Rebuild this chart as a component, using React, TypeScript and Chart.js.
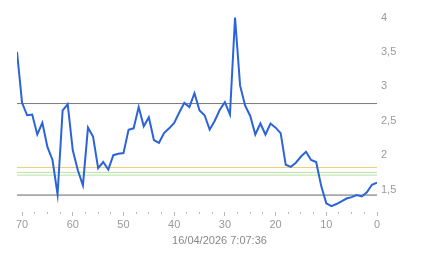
import React, { useEffect, useRef } from "react";
import { Chart, registerables } from "chart.js";

Chart.register(...registerables);

// x positions (counting down from 71 to 0)
const X_VALUES: number[] = [
  71, 70, 69, 68, 67, 66, 65, 64, 63, 62, 61, 60, 59, 58, 57, 56, 55, 54, 53, 52, 51, 50,
  49, 48, 47, 46, 45, 44, 43, 42, 41, 40, 39, 38, 37, 36, 35, 34, 33, 32, 31, 30,
  29, 28, 27, 26, 25, 24, 23, 22, 21, 20, 19, 18, 17, 16, 15, 14, 13, 12, 11, 10,
  9, 8, 7, 6, 5, 4, 3, 2, 1, 0,
];
const SERIES: number[] = [
  3.5, 2.76, 2.58, 2.59, 2.3, 2.47, 2.12, 1.93, 1.43, 2.65, 2.74, 2.07, 1.78, 1.56, 2.4, 2.27, 1.81, 1.9, 1.79, 2.0, 2.02, 2.03,
  2.37, 2.39, 2.7, 2.42, 2.55, 2.22, 2.18, 2.32, 2.39, 2.47, 2.62, 2.76, 2.7, 2.9, 2.65, 2.58, 2.37, 2.5, 2.66, 2.77,
  2.59, 4.0, 3.01, 2.72, 2.57, 2.3, 2.46, 2.3, 2.46, 2.4, 2.32, 1.86, 1.83, 1.89, 1.98, 2.05, 1.93, 1.9, 1.55, 1.3,
  1.26, 1.29, 1.33, 1.37, 1.39, 1.42, 1.4, 1.46, 1.57, 1.6,
];
// reference levels
const LEVEL_VALUES: number[] = [2.75, 1.42, 1.82, 1.75, 1.71];
const LEVEL_COLORS: string[] = ["#777777", "#666666", "#f0cc7a", "#b5e2a5", "#b5e2a5"];

const X_TICKS: number[] = [
  0, 2.5, 5, 7.5, 10, 12.5, 15, 17.5, 20, 22.5, 25, 27.5, 30, 32.5, 35, 37.5, 40, 42.5, 45, 47.5,
  50, 52.5, 55, 57.5, 60, 62.5, 65, 67.5, 70,
];
const X_LABELED: number[] = [0, 10, 20, 30, 40, 50, 60, 70];
const Y_TICKS: number[] = [1.5, 2, 2.5, 3, 3.5, 4];
const TIMESTAMP = "16/04/2026 7:07:36";

export default function App() {
  const ref = useRef<HTMLCanvasElement | null>(null);

  useEffect(() => {
    if (!ref.current) return;
    const xMin = 0;
    const xMax = Math.max(...X_VALUES);
    const datasets: any[] = [
      {
        data: X_VALUES.map((x, i) => ({ x, y: SERIES[i] })),
        borderColor: "#2b63da",
        borderWidth: 2,
        pointRadius: 0,
        tension: 0,
        fill: false,
      },
      ...LEVEL_VALUES.map((v, i) => ({
        data: [
          { x: xMin, y: v },
          { x: xMax, y: v },
        ],
        borderColor: LEVEL_COLORS[i],
        borderWidth: 1,
        pointRadius: 0,
        fill: false,
      })),
    ];

    const titlePlugin = {
      id: "timestampTitle",
      afterDraw(chart: any) {
        const ctx = chart.ctx;
        ctx.save();
        ctx.font = "11px Arial, 'Liberation Sans', sans-serif";
        ctx.fillStyle = "#888888";
        ctx.textAlign = "center";
        ctx.textBaseline = "middle";
        ctx.fillText(TIMESTAMP, chart.width / 2 - 2, chart.height - 17);
        ctx.restore();
      },
    };

    const chart = new Chart(ref.current, {
      type: "line",
      data: { datasets },
      plugins: [titlePlugin],
      options: {
        animation: false,
        responsive: false,
        maintainAspectRatio: false,
        layout: { padding: { left: 17, top: 10, right: 0, bottom: 0 } },
        plugins: { legend: { display: false }, tooltip: { enabled: false }, title: { display: false } },
        scales: {
          x: {
            type: "linear",
            reverse: true,
            min: xMin,
            max: xMax,
            border: { display: false },
            grid: {
              drawOnChartArea: false,
              drawTicks: true,
              tickLength: 4,
              tickColor: "#bbbbbb",
              tickBorderDash: (c: any) =>
                c.tick && X_LABELED.includes(c.tick.value) ? [] : [2, 20],
            },
            afterBuildTicks: (scale: any) => {
              scale.ticks = X_TICKS.map((v) => ({ value: v }));
            },
            afterFit: (scale: any) => {
              scale.height = 46;
            },
            ticks: {
              autoSkip: false,
              maxRotation: 0,
              padding: 2,
              color: "#999999",
              font: { family: "Arial, 'Liberation Sans', sans-serif", size: 11 },
              callback: (v: any) => (X_LABELED.includes(Number(v)) ? String(v) : ""),
            },
          },
          y: {
            type: "linear",
            position: "right",
            min: 1.174,
            max: 4.101,
            border: { display: false },
            grid: { display: false, drawTicks: false },
            afterBuildTicks: (scale: any) => {
              scale.ticks = Y_TICKS.map((v) => ({ value: v }));
            },
            afterFit: (scale: any) => {
              scale.width = 66;
            },
            ticks: {
              padding: 4,
              color: "#9a9a9a",
              font: { family: "Arial, 'Liberation Sans', sans-serif", size: 11 },
              callback: (v: any) => String(v).replace(".", ","),
            },
          },
        },
      },
    });
    return () => chart.destroy();
  }, []);

  return (
    <div style={{ position: "absolute", left: 0, top: 0, width: 443, height: 258 }}>
      <canvas ref={ref} width={443} height={258} style={{ display: "block" }} />
    </div>
  );
}
